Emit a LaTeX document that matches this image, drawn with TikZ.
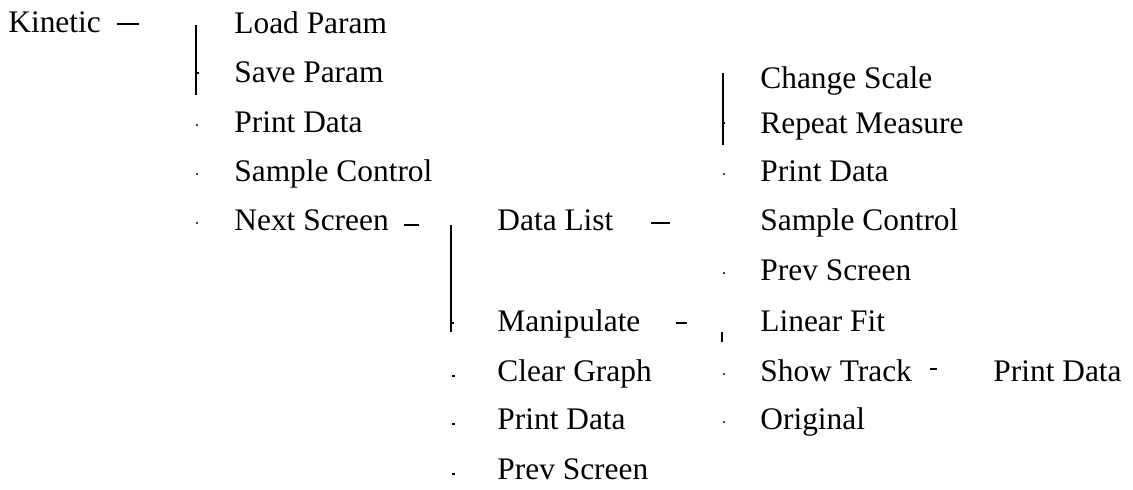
\documentclass[tikz,border=0pt]{standalone}
\usepackage{fontspec}
\setmainfont{Liberation Serif}
\usetikzlibrary{calc}

\tikzset{
    menu/.style={anchor=base west, inner sep=0pt, font=\fontsize{15.7}{18}\selectfont},
    tiret/.style={line width=1pt},
    barre/.style={line width=1pt},
    point/.style={fill=black}
}

\begin{document}
\begin{tikzpicture}[x=0.5pt, y=-0.5pt]

    \useasboundingbox (0,0) rectangle (1133,490);

    % Menu principal
    \node[menu] (kin) at (8,33) {Kinetic};

    % Premier niveau
    \node[menu] (load)    at (234,34)  {Load Param};
    \node[menu] (save)    at (234,83)  {Save Param};
    \node[menu] (print1)  at (234,133) {Print Data};
    \node[menu] (sample1) at (234,182) {Sample Control};
    \node[menu] (next)    at (234,231) {Next Screen};

    % Second niveau
    \node[menu] (datalist) at (497,231) {Data List};
    \node[menu] (manip)    at (497,332) {Manipulate};
    \node[menu] (clear)    at (497,382) {Clear Graph};
    \node[menu] (print2)   at (497,430) {Print Data};
    \node[menu] (prev1)    at (497,480) {Prev Screen};

    % Troisieme niveau
    \node[menu] (scale)   at (760,89)  {Change Scale};
    \node[menu] (repeat)  at (760,134) {Repeat Measure};
    \node[menu] (print3)  at (760,182) {Print Data};
    \node[menu] (sample2) at (760,231) {Sample Control};
    \node[menu] (prev2)   at (760,281) {Prev Screen};
    \node[menu] (linfit)  at (760,332) {Linear Fit};
    \node[menu] (track)   at (760,382) {Show Track};
    \node[menu] (orig)    at (760,430) {Original};

    % Quatrieme niveau
    \node[menu] (print4) at (993,382) {Print Data};

    % Tirets apres les parents
    \draw[tiret] ($(kin.base east)+(16,-9)$) -- ++(22,0);
    \draw[tiret] ($(next.base east)+(15,-6)$) -- ++(15,0);
    \draw[tiret] ($(datalist.base east)+(37,-8)$) -- ++(19,0);
    \draw[tiret] ($(manip.base east)+(35,-9)$) -- ++(11,0);
    \draw[tiret] ($(track.base east)+(18,-13)$) -- ++(7,0);

    % Barres verticales
    \draw[barre] ($(load.base west)+(-38,-9)$) -- ($(save.base west)+(-38,12)$);
    \draw[barre] ($(save.base west)+(-38,-10)$) -- ++(3,0);
    \draw[barre] ($(datalist.base west)+(-46,-6)$) -- ($(manip.base west)+(-46,0)$);
    \draw[barre] ($(manip.base west)+(-46,-9)$) -- ++(3,0);
    \draw[barre] ($(scale.base west)+(-37,-16)$) -- ($(repeat.base west)+(-37,11)$);
    \draw[barre] ($(repeat.base west)+(-37,-11)$) -- ++(2,0);
    \draw[barre] ($(linfit.base west)+(-38,0)$) -- ++(0,10);

    % Petits points
    \foreach \n in {print1, sample1, next}
        \fill[point] ($(\n.base west)+(-37,-8)$) circle (1.2);
    \foreach \n in {clear, print2, prev1}
        \fill[point] ($(\n.base west)+(-45,-7)$) rectangle ++(3,2);
    \foreach \n in {print3, prev2, track, orig}
        \fill[point] ($(\n.base west)+(-36,-8)$) circle (1.2);

\end{tikzpicture}
\end{document}
